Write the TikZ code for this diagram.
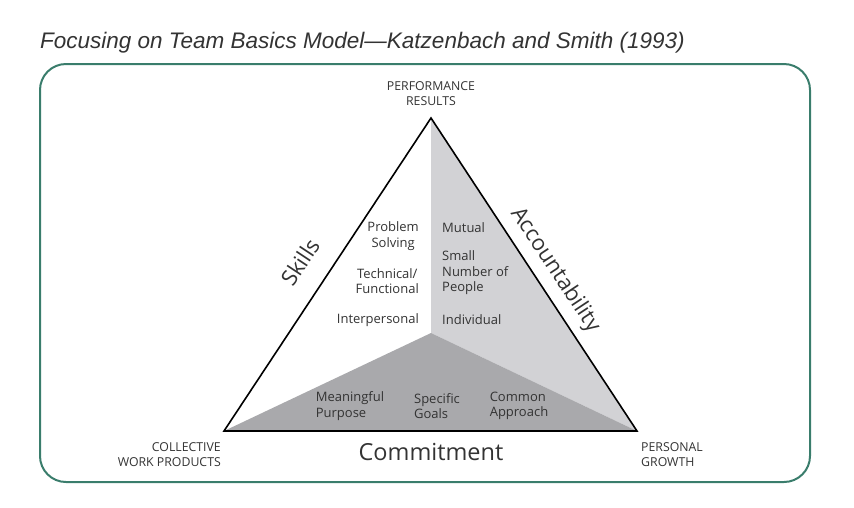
\documentclass[tikz,border=0pt]{standalone}
\usepackage{fontspec}
\setmainfont{Open Sans}
\newfontfamily\titlefont{Liberation Sans}
\definecolor{framegreen}{HTML}{3A7D6C}
\definecolor{lightside}{HTML}{D2D2D5}
\definecolor{darkside}{HTML}{A9A9AC}
\definecolor{inktext}{HTML}{333333}
\begin{document}
\begin{tikzpicture}[x=1pt,y=-1pt]
  \tikzstyle{every node}=[text=inktext,inner sep=0pt]
  \tikzstyle{corner}=[font=\fontsize{12.3}{15}\selectfont,align=center]
  \tikzstyle{item}=[font=\fontsize{13}{15.5}\selectfont]
  \tikzstyle{side}=[font=\fontsize{22}{24}\selectfont]
  \useasboundingbox (0,0) rectangle (854,507);

  \node[anchor=base west,font=\titlefont\itshape\fontsize{22.5}{26}\selectfont] (title) at (40,48)
    {Focusing on Team Basics Model—Katzenbach and Smith (1993)};
  \draw[framegreen,line width=2pt,rounded corners=26pt] (40,64) rectangle (810,482);

  \coordinate (top) at (431,118);
  \coordinate (left) at (224,431);
  \coordinate (right) at (637,431);
  \coordinate (mid) at (431,333);

  \fill[lightside] (top) -- (mid) -- (right) -- cycle;
  \fill[darkside] (left) -- (mid) -- (right) -- cycle;
  \draw[line width=1.6pt,line join=miter] (top) -- (left) -- (right) -- cycle;

  \node[corner] (results) at (431,94) {PERFORMANCE\\RESULTS};
  \node[corner,align=right,anchor=east] (products) at (221,455) {COLLECTIVE\\WORK PRODUCTS};
  \node[corner,align=left,anchor=west] (growth) at (641,455) {PERSONAL\\GROWTH};

  \node[side,rotate=56.5] (skills) at (300,262) {Skills};
  \node[side,rotate=-56.5] (account) at (555,270) {Accountability};
  \node[side,font=\fontsize{23.5}{26}\selectfont] (commit) at (431,452) {Commitment};

  \node[item,align=center,anchor=east] (problem) at (419,236) {Problem\\Solving};
  \node[item,align=center,anchor=east] (technical) at (419,281) {Technical/\\Functional};
  \node[item,anchor=east] (inter) at (419,320) {Interpersonal};

  \node[item,anchor=west] (mutual) at (442,228) {Mutual};
  \node[item,align=left,anchor=west] (small) at (442,273) {Small\\Number of\\People};
  \node[item,anchor=west] (indiv) at (442,320) {Individual};

  \node[item,align=left] (purpose) at (350,406) {Meaningful\\Purpose};
  \node[item,align=left] (goals) at (437,406) {Specific\\Goals};
  \node[item,align=left] (approach) at (519,406) {Common\\Approach};
\end{tikzpicture}
\end{document}
